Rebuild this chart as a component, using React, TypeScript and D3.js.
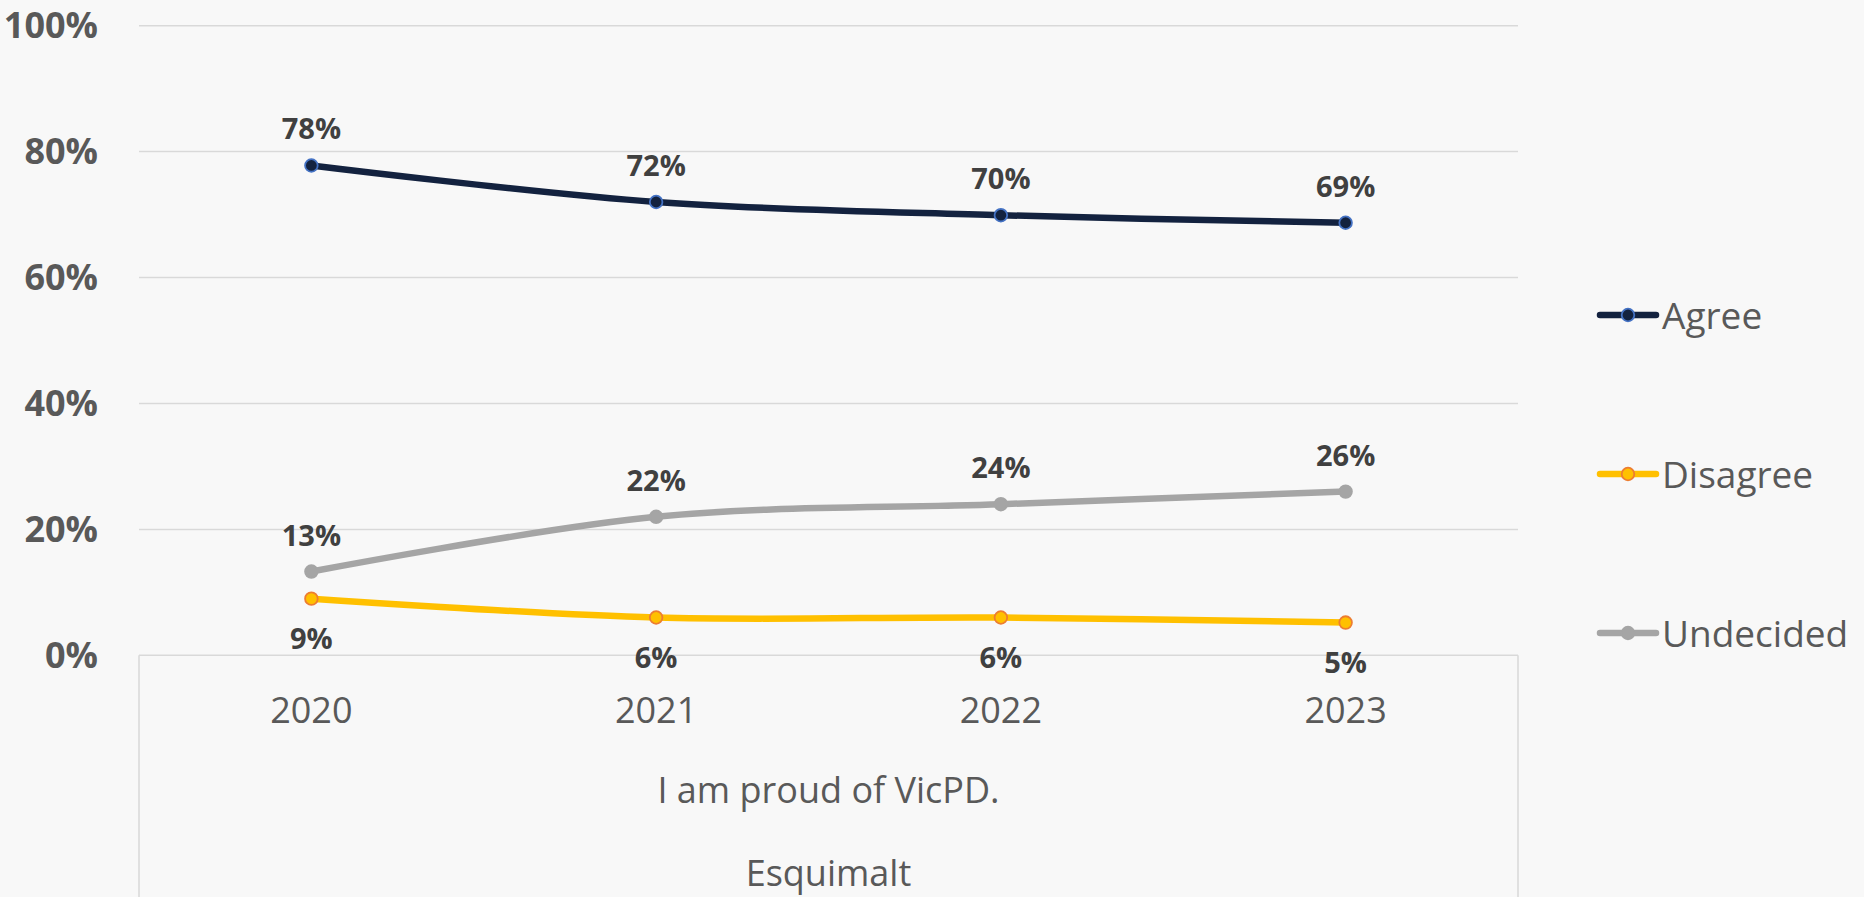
import React, { useEffect, useRef } from "react";
import * as d3 from "d3";

const years = ["2020", "2021", "2022", "2023"];
const agree = [0.778, 0.72, 0.699, 0.687];
const disagree = [0.09, 0.06, 0.06, 0.052];
const undecided = [0.133, 0.22, 0.24, 0.26];
const agreeLabels = ["78%", "72%", "70%", "69%"];
const disagreeLabels = ["9%", "6%", "6%", "5%"];
const undecidedLabels = ["13%", "22%", "24%", "26%"];
const yTicks = [0, 0.2, 0.4, 0.6, 0.8, 1];
const question = "I am proud of VicPD.";
const place = "Esquimalt";

const W = 1864;
const H = 897;
const FONT = "'Open Sans', 'DejaVu Sans', sans-serif";

function App() {
  const ref = useRef<SVGSVGElement | null>(null);

  useEffect(() => {
    const svg = d3.select(ref.current);
    svg.selectAll("*").remove();

    const x = d3.scaleBand().domain(years).range([139, 1518]).padding(0);
    const cx = (d: string) => (x(d) as number) + x.bandwidth() / 2;
    const y = d3.scaleLinear().domain([0, 1]).range([655.3, 25.7]);

    svg.append("rect").attr("width", W).attr("height", H).attr("fill", "#f8f8f8");

    // gridlines
    svg.append("g")
      .selectAll("line")
      .data(yTicks)
      .join("line")
      .attr("x1", 139)
      .attr("x2", 1518)
      .attr("y1", d => y(d))
      .attr("y2", d => y(d))
      .attr("stroke", "#d9d9d9")
      .attr("stroke-width", 1.5);

    // category box below the axis
    svg.append("g")
      .selectAll("line")
      .data([139, 1518])
      .join("line")
      .attr("x1", d => d)
      .attr("x2", d => d)
      .attr("y1", y(0))
      .attr("y2", H)
      .attr("stroke", "#d9d9d9")
      .attr("stroke-width", 1.5);

    // y tick labels
    svg.append("g")
      .attr("font-family", FONT)
      .attr("font-weight", "bold")
      .attr("font-size", 36)
      .attr("fill", "#595959")
      .attr("text-anchor", "end")
      .selectAll("text")
      .data(yTicks)
      .join("text")
      .attr("x", 98)
      .attr("y", d => y(d) + 12.6)
      .text(d => d3.format(".0%")(d));

    // x labels
    const xl = svg.append("g")
      .attr("font-family", FONT)
      .attr("font-size", 36)
      .attr("fill", "#595959")
      .attr("text-anchor", "middle");
    xl.selectAll("text")
      .data(years)
      .join("text")
      .attr("x", d => cx(d))
      .attr("y", 723)
      .text(d => d);
    xl.append("text").attr("x", 828.5).attr("y", 803).text(question);
    xl.append("text").attr("x", 828.5).attr("y", 886).text(place);

    const series = [
      { name: "Agree", values: agree, labels: agreeLabels, color: "#13223f", mFill: "#13223f", mStroke: "#4472c4", dy: -26 },
      { name: "Disagree", values: disagree, labels: disagreeLabels, color: "#ffc000", mFill: "#ffc000", mStroke: "#ed7d31", dy: 50 },
      { name: "Undecided", values: undecided, labels: undecidedLabels, color: "#a5a5a5", mFill: "#a5a5a5", mStroke: "#a5a5a5", dy: -26 },
    ];

    const line = d3.line<number>()
      .x((d, i) => cx(years[i]))
      .y(d => y(d))
      .curve(d3.curveCardinal.tension(0));

    const drawOrder = [series[1], series[2], series[0]];
    drawOrder.forEach(s => {
      const g = svg.append("g");
      g.append("path")
        .attr("d", line(s.values))
        .attr("fill", "none")
        .attr("stroke", s.color)
        .attr("stroke-width", 6.5)
        .attr("stroke-linecap", "round");
      g.selectAll("circle")
        .data(s.values)
        .join("circle")
        .attr("cx", (d, i) => cx(years[i]))
        .attr("cy", d => y(d))
        .attr("r", 6.3)
        .attr("fill", s.mFill)
        .attr("stroke", s.mStroke)
        .attr("stroke-width", 1.8);
    });

    // data labels
    series.forEach(s => {
      svg.append("g")
        .attr("font-family", FONT)
        .attr("font-weight", "bold")
        .attr("font-size", 29)
        .attr("fill", "#404040")
        .attr("text-anchor", "middle")
        .selectAll("text")
        .data(s.values)
        .join("text")
        .attr("x", (d, i) => cx(years[i]))
        .attr("y", d => y(d) + s.dy)
        .text((d, i) => s.labels[i]);
    });

    // legend
    const legendY = d3.scalePoint().domain(series.map(s => s.name)).range([315, 633]);
    const lg = svg.append("g")
      .selectAll("g")
      .data(series)
      .join("g")
      .attr("transform", d => `translate(0,${legendY(d.name)})`);
    lg.append("line")
      .attr("x1", 1600)
      .attr("x2", 1656)
      .attr("stroke", d => d.color)
      .attr("stroke-width", 6.5)
      .attr("stroke-linecap", "round");
    lg.append("circle")
      .attr("cx", 1628)
      .attr("r", 6.3)
      .attr("fill", d => d.mFill)
      .attr("stroke", d => d.mStroke)
      .attr("stroke-width", 1.8);
    lg.append("text")
      .attr("x", 1662)
      .attr("y", 14)
      .attr("font-family", FONT)
      .attr("font-size", 37)
      .attr("fill", "#595959")
      .text(d => d.name);
  }, []);

  return (
    <svg
      ref={ref}
      width={W}
      height={H}
      style={{ position: "absolute", left: 0, top: 0, display: "block" }}
    />
  );
}

export default App;
